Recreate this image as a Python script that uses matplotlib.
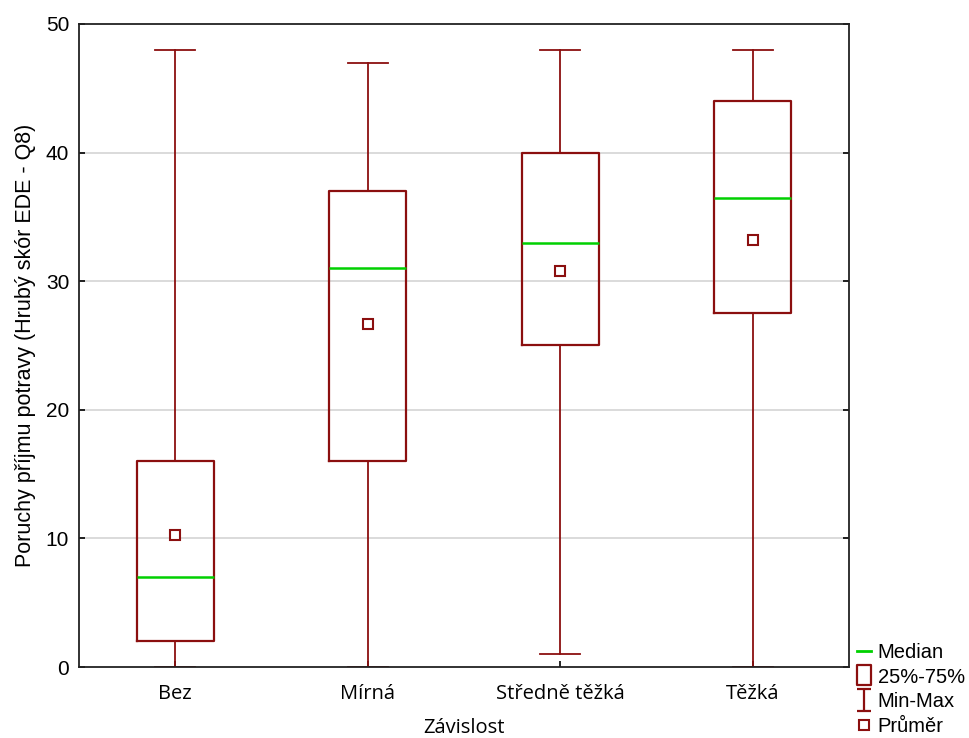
import matplotlib.pyplot as plt
from matplotlib.lines import Line2D
from matplotlib.path import Path

# summary statistics per group (min, Q1, median, Q3, max, mean)
groups = ["Bez", "Mírná", "Středně těžká", "Těžká"]
mins = [0, 0, 1, 0]
q1s = [2, 16, 25, 27.5]
medians = [7, 31, 33, 36.5]
q3s = [16, 37, 40, 44]
maxs = [48, 47, 48, 48]
means = [10.3, 26.7, 30.8, 33.2]

yticks = [0, 10, 20, 30, 40, 50]

BOX = "#8b0f0f"
MED = "#00d000"

plt.rcParams["font.family"] = ["Liberation Sans", "DejaVu Sans"]

stats = []
for g, lo, a, m, b, hi, mu in zip(groups, mins, q1s, medians, q3s, maxs, means):
    stats.append({"label": g, "whislo": lo, "q1": a, "med": m, "q3": b,
                  "whishi": hi, "mean": mu, "fliers": []})

fig = plt.figure(figsize=(9.7, 7.38), dpi=100)
ax = fig.add_axes([0.0814, 0.0962, 0.7939, 0.8713])

ax.bxp(stats, widths=0.4, capwidths=0.21, showmeans=True, showfliers=False,
       boxprops=dict(color=BOX, linewidth=1.6),
       whiskerprops=dict(color=BOX, linewidth=1.3),
       capprops=dict(color=BOX, linewidth=1.3),
       medianprops=dict(color=MED, linewidth=1.8, zorder=3),
       meanprops=dict(marker="s", markersize=7.5, markerfacecolor="white",
                      markeredgecolor=BOX, markeredgewidth=1.5, zorder=4))

ax.set_xlim(0.5, 4.5)
ax.set_ylim(0, 50)
ax.set_yticks(yticks)
for v in yticks[1:-1]:
    ax.axhline(v, color="#d4d4d4", linewidth=1.2, zorder=0)

ax.tick_params(axis="y", direction="in", length=4, width=1.2, right=True,
               labelsize=15, pad=7)
ax.tick_params(axis="x", direction="in", length=4, width=1.2, labelsize=14.5, pad=12)
for lab in ax.get_xticklabels():
    lab.set_family("Open Sans")
for s in ax.spines.values():
    s.set_linewidth(1.3)
    s.set_color("#222222")

ax.set_xlabel("Závislost", fontsize=14.5, family="Open Sans", labelpad=10)
ax.set_ylabel("Poruchy příjmu potravy (Hrubý skór EDE - Q8)", fontsize=15.5, labelpad=7)

# legend markers: box rectangle and min-max whisker
box_path = Path([(-0.35, 0.5), (0.35, 0.5), (0.35, -0.5), (-0.35, -0.5), (-0.35, 0.5)],
                [Path.MOVETO, Path.LINETO, Path.LINETO, Path.LINETO, Path.CLOSEPOLY])
whisker_path = Path([(-0.3, 0.5), (0.3, 0.5), (0, 0.5), (0, -0.5), (-0.3, -0.5), (0.3, -0.5)],
                    [Path.MOVETO, Path.LINETO, Path.MOVETO, Path.LINETO,
                     Path.MOVETO, Path.LINETO])
handles = [
    Line2D([], [], color=MED, linewidth=2),
    Line2D([], [], linestyle="none", marker=box_path, markersize=15,
           markerfacecolor="white", markeredgecolor=BOX, markeredgewidth=1.6),
    Line2D([], [], linestyle="none", marker=whisker_path, markersize=16,
           markeredgecolor=BOX, markeredgewidth=1.6),
    Line2D([], [], linestyle="none", marker="s", markersize=7,
           markerfacecolor="white", markeredgecolor=BOX, markeredgewidth=1.5),
]
labels = ["Median", "25%-75%", "Min-Max", "Průměr"]
fig.legend(handles, labels, loc="lower left", bbox_to_anchor=(0.883, 0.003),
           frameon=False, fontsize=14.5, handlelength=0.7, handletextpad=0.35,
           labelspacing=0.28, borderpad=0.0, borderaxespad=0.0)

fig.savefig("out.png", dpi=100)
